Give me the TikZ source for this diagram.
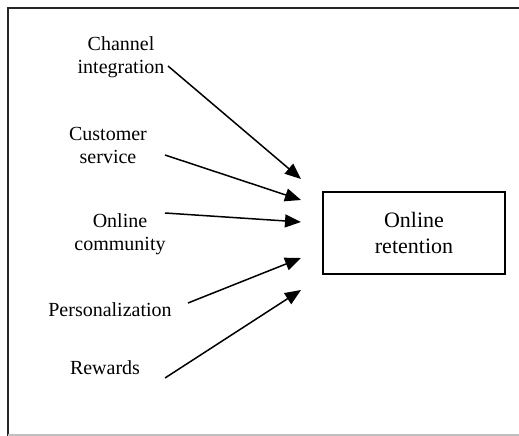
\documentclass[tikz,border=0pt]{standalone}
\usepackage{fontspec}
\setmainfont{Liberation Serif}
\usetikzlibrary{arrows.meta}
\begin{document}
\begin{tikzpicture}[x=1pt,y=-1pt,
  label/.style={align=center,font=\fontsize{20}{23}\selectfont,inner sep=0pt},
  target/.style={draw,line width=1.5pt,minimum width=182pt,minimum height=82pt,
    align=center,font=\fontsize{22}{26}\selectfont},
  link/.style={line width=1.5pt,-{Triangle[length=16pt,width=13pt]}}]
\useasboundingbox (0,0) rectangle (519,436);
% outer frame (open on the right)
\draw[line width=2pt,black!85] (519,8.5) -- (7.5,8.5) -- (7.5,436);
\draw[line width=1.5pt,black!25] (7.5,435) -- (519,435);

% factor labels
\node[label] (chan) at (121,57) {Channel\\integration};
\node[label] (cust) at (108,145) {Customer\\service};
\node[label] (comm) at (120,234) {Online\\community};
\node[label] (pers) at (110,310) {Personalization};
\node[label] (rew)  at (105,368) {Rewards};

% outcome box
\node[target] (ret) at (414,233) {Online\\retention};

% connector end points
\coordinate (s1) at (168,66);
\coordinate (s2) at (165,155);
\coordinate (s3) at (165,213);
\coordinate (s4) at (188,303);
\coordinate (s5) at (165,378);
\coordinate (t1) at (301,179);
\coordinate (t2) at (301,200);
\coordinate (t3) at (301,222);
\coordinate (t4) at (301,258);
\coordinate (t5) at (301,290);

\draw[link] (s1) -- (t1);
\draw[link] (s2) -- (t2);
\draw[link] (s3) -- (t3);
\draw[link] (s4) -- (t4);
\draw[link] (s5) -- (t5);
\end{tikzpicture}
\end{document}
